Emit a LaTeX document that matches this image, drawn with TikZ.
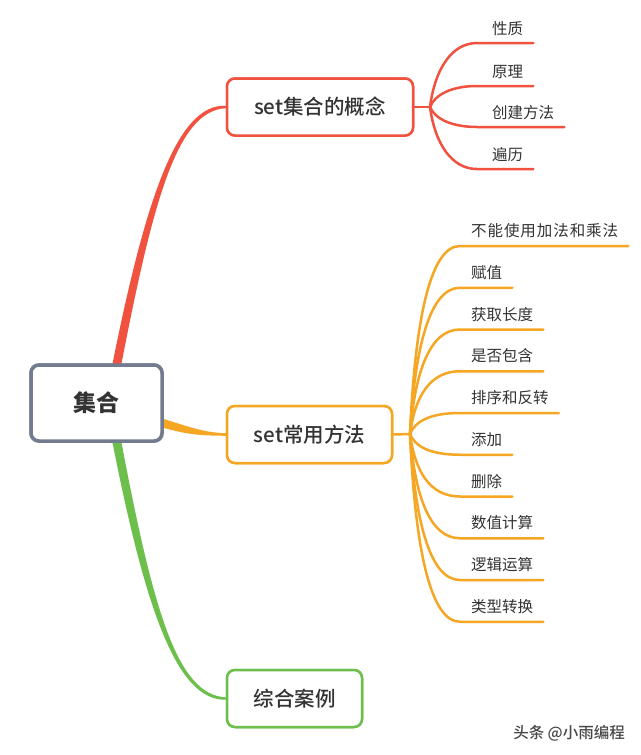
\documentclass[tikz,border=0pt]{standalone}
\usepackage{fontspec}
\setmainfont{Noto Sans CJK SC}
\newfontfamily\cjkmed{Noto Sans CJK SC Medium}
\usetikzlibrary{calc}
\definecolor{cred}{HTML}{F0523F}
\definecolor{corange}{HTML}{F5A623}
\definecolor{cgreen}{HTML}{6CBF4A}
\definecolor{cgray}{HTML}{737C8E}
\definecolor{ctext}{HTML}{333333}
\tikzset{
  rootbox/.style={draw=cgray, line width=3.5pt, rounded corners=8pt, fill=white,
    minimum width=131pt, minimum height=76pt, inner sep=0pt,
    font=\fontsize{23}{23}\selectfont\bfseries, text=ctext},
  topicbox/.style={line width=2.5pt, rounded corners=8pt, fill=white,
    minimum height=57pt, inner sep=0pt,
    font=\fontsize{20.5}{20.5}\selectfont\cjkmed, text=ctext},
  leaf/.style={anchor=base west, inner sep=0pt,
    font=\fontsize{15.5}{15.5}\selectfont, text=ctext},
  sub/.style={line width=2.5pt, line cap=round},
}
\begin{document}
\begin{tikzpicture}[x=1pt,y=-1pt]
\useasboundingbox (0,0) rectangle (640,755);
\fill[white] (0,0) rectangle (640,755);

% nodes (positions)
\node[rootbox] (root) at (96.5,403) {集合};
\node[topicbox, draw=cred, minimum width=186pt] (c1) at (320,107) {set集合的概念};
\node[topicbox, draw=corange, minimum width=165pt] (c2) at (309.5,434.5) {set常用方法};
\node[topicbox, draw=cgreen, minimum width=135pt] (c3) at (294.5,698.5) {综合案例};

% main tapered branches
\coordinate (rs) at ($(root.north)+(19,8)$);
\fill[cred] ($(rs)+(-4.5,0)$) .. controls (145,200) and (177,103.3) .. ($(c1.west)+(0,-1.2)$)
  -- ($(c1.west)+(0,1.2)$) .. controls (177,110.7) and (153,200) .. ($(rs)+(4.5,0)$) -- cycle;
\coordinate (gs) at ($(root.south)+(19,-8)$);
\fill[cgreen] ($(gs)+(-4.5,0)$) .. controls (145,610) and (177,701) .. ($(c3.west)+(0,1.2)$)
  -- ($(c3.west)+(0,-1.2)$) .. controls (177,695) and (153,610) .. ($(gs)+(4.5,0)$) -- cycle;
\coordinate (os) at ($(root.east)+(-8,18)$);
\fill[corange] ($(os)+(0,-4.5)$) .. controls (190,427) and (203,432.5) .. ($(c2.west)+(0,-1.3)$)
  -- ($(c2.west)+(0,1.3)$) .. controls (201,435.5) and (186,435) .. ($(os)+(0,4.5)$) -- cycle;

% boxes drawn again on top
\node[rootbox] at (root) {集合};
\node[topicbox, draw=cred, minimum width=186pt] at (c1) {set集合的概念};
\node[topicbox, draw=corange, minimum width=165pt] at (c2) {set常用方法};
\node[topicbox, draw=cgreen, minimum width=135pt] at (c3) {综合案例};

% red sub-branches
\coordinate (rf) at (430,107);
\draw[sub, cred] (c1.east) -- (rf);
\foreach \i/\y/\t in {1/43/性质, 2/86/原理, 3/127/创建方法, 4/169/遍历}{
  \node[leaf] (r\i) at (492,\y-9) {\t};
  \coordinate (sr\i) at (477,\y);
  \coordinate (er\i) at ($(r\i.east |- sr\i)+(10,0)$);
  \draw[sub, cred] (rf) .. controls ($(rf)+(5,{(\y-107)*0.6})$) and ($(sr\i)+(-25,0)$) .. (sr\i) -- (er\i);
}

% orange sub-branches
\coordinate (of) at (410,434);
\draw[sub, corange] (c2.east) -- (of);
\node[leaf] (o1) at (471,236.5) {\addfontfeature{LetterSpace=6}不能使用加法和乘法};
\foreach \i/\t in {2/赋值, 3/获取长度, 4/是否包含, 5/排序和反转, 6/添加, 7/删除, 8/数值计算, 9/逻辑运算, 10/类型转换}{
  \pgfmathsetmacro{\yy}{246+41.75*(\i-1)}
  \node[leaf] (o\i) at (471,\yy-9.5) {\t};
}
\foreach \i in {1,...,10}{
  \pgfmathsetmacro{\yy}{246+41.75*(\i-1)}
  \coordinate (so\i) at (460,\yy);
  \coordinate (eo\i) at ($(o\i.east |- so\i)+(10,0)$);
  \draw[sub, corange] (of) .. controls ($(of)+(5,{(\yy-434)*0.6})$) and ($(so\i)+(-30,0)$) .. (so\i) -- (eo\i);
}

% watermark
\node[font=\fontsize{15.5}{15.5}\selectfont\cjkmed, text=ctext!90, anchor=east, inner sep=0pt] (wm) at (625,733) {头条 @小雨编程};
\end{tikzpicture}
\end{document}
